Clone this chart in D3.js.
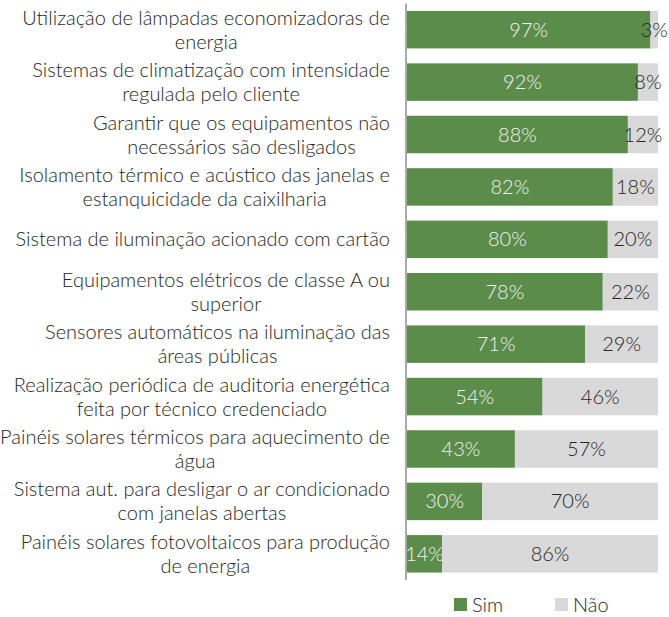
<!DOCTYPE html>
<html><head><meta charset="utf-8">
<script src="https://cdn.jsdelivr.net/npm/d3@7/dist/d3.min.js"></script>
<style>body{margin:0;background:#fff}</style>
</head><body>
<svg id="c" width="669" height="617"></svg>
<script>
const categories = [
  ["Utilização de lâmpadas economizadoras de","energia"],
  ["Sistemas de climatização com intensidade","regulada pelo cliente"],
  ["Garantir que os equipamentos não","necessários são desligados"],
  ["Isolamento térmico e acústico das janelas e","estanquicidade da caixilharia"],
  ["Sistema de iluminação acionado com cartão"],
  ["Equipamentos elétricos de classe A ou","superior"],
  ["Sensores automáticos na iluminação das","áreas públicas"],
  ["Realização periódica de auditoria energética","feita por técnico credenciado"],
  ["Painéis solares térmicos para aquecimento de","água"],
  ["Sistema aut. para desligar o ar condicionado","com janelas abertas"],
  ["Painéis solares fotovoltaicos para produção","de energia"]
];
const sim = [97,92,88,82,80,78,71,54,43,30,14];
const nao = [3,8,12,18,20,22,29,46,57,70,86];
const seriesNames = ["Sim","Não"];
const colors = ["#5B8C4A","#D9D9D9"];
const labelColors = ["#f2f2f2","#262626"];

const svg = d3.select("#c");
const font = "Lato, 'Open Sans', sans-serif";
const fw = 300;
const fs = 20;
const x0 = 407, x1 = 658, yTop = 3.5, yBot = 580;
const x = d3.scaleLinear().domain([0,100]).range([x0,x1]);
const idx = d3.range(categories.length);
const y = d3.scaleBand().domain(idx).range([yTop,yBot]).paddingInner(0.285).paddingOuter(0.142);

const rows = idx.map(i => ({i, vals:[sim[i], nao[i]]}));
const stack = d3.stack().keys([0,1]).value((d,k)=>d.vals[k])(rows);

stack.forEach((layer,k)=>{
  svg.append("g").selectAll("rect").data(layer).join("rect")
    .attr("x", d=>x(d[0])).attr("width", d=>x(d[1])-x(d[0]))
    .attr("y", d=>y(d.data.i)).attr("height", y.bandwidth())
    .attr("fill", colors[k]);
  svg.append("g").selectAll("text").data(layer).join("text")
    .attr("x", d=>(x(d[0])+x(d[1]))/2)
    .attr("y", d=>y(d.data.i)+y.bandwidth()/2)
    .attr("dy","0.35em").attr("text-anchor","middle")
    .attr("font-family",font).attr("font-size",fs).attr("font-weight",fw)
    .attr("fill", labelColors[k])
    .text(d=>d.data.vals[k]+"%");
});

// axis line
svg.append("line").attr("x1",406).attr("x2",406).attr("y1",yTop).attr("y2",yBot)
  .attr("stroke","#8c8c8c").attr("stroke-width",1.5);

// category labels
const rightEdge = 390;
const lh = 24;
categories.forEach((lines,i)=>{
  const g = svg.append("g");
  const cy = y(i)+y.bandwidth()/2;
  const ts = lines.map((t,j)=> g.append("text")
      .attr("y", cy + (j-(lines.length-1)/2)*lh)
      .attr("dy","0.35em").attr("text-anchor","middle")
      .attr("font-family",font).attr("font-size",fs).attr("font-weight",fw).attr("fill","#262626")
      .text(t));
  const maxW = d3.max(ts, t=>t.node().getComputedTextLength());
  ts.forEach(t=>t.attr("x", rightEdge - maxW/2));
});

// legend
const legend = [{n:seriesNames[0],c:colors[0],x:454},{n:seriesNames[1],c:colors[1],x:555}];
legend.forEach(l=>{
  svg.append("rect").attr("x",l.x).attr("y",598).attr("width",13).attr("height",13).attr("fill",l.c);
  svg.append("text").attr("x",l.x+18).attr("y",605).attr("dy","0.35em")
    .attr("font-family",font).attr("font-size",fs).attr("font-weight",fw).attr("fill","#262626").text(l.n);
});
</script>
</body></html>
